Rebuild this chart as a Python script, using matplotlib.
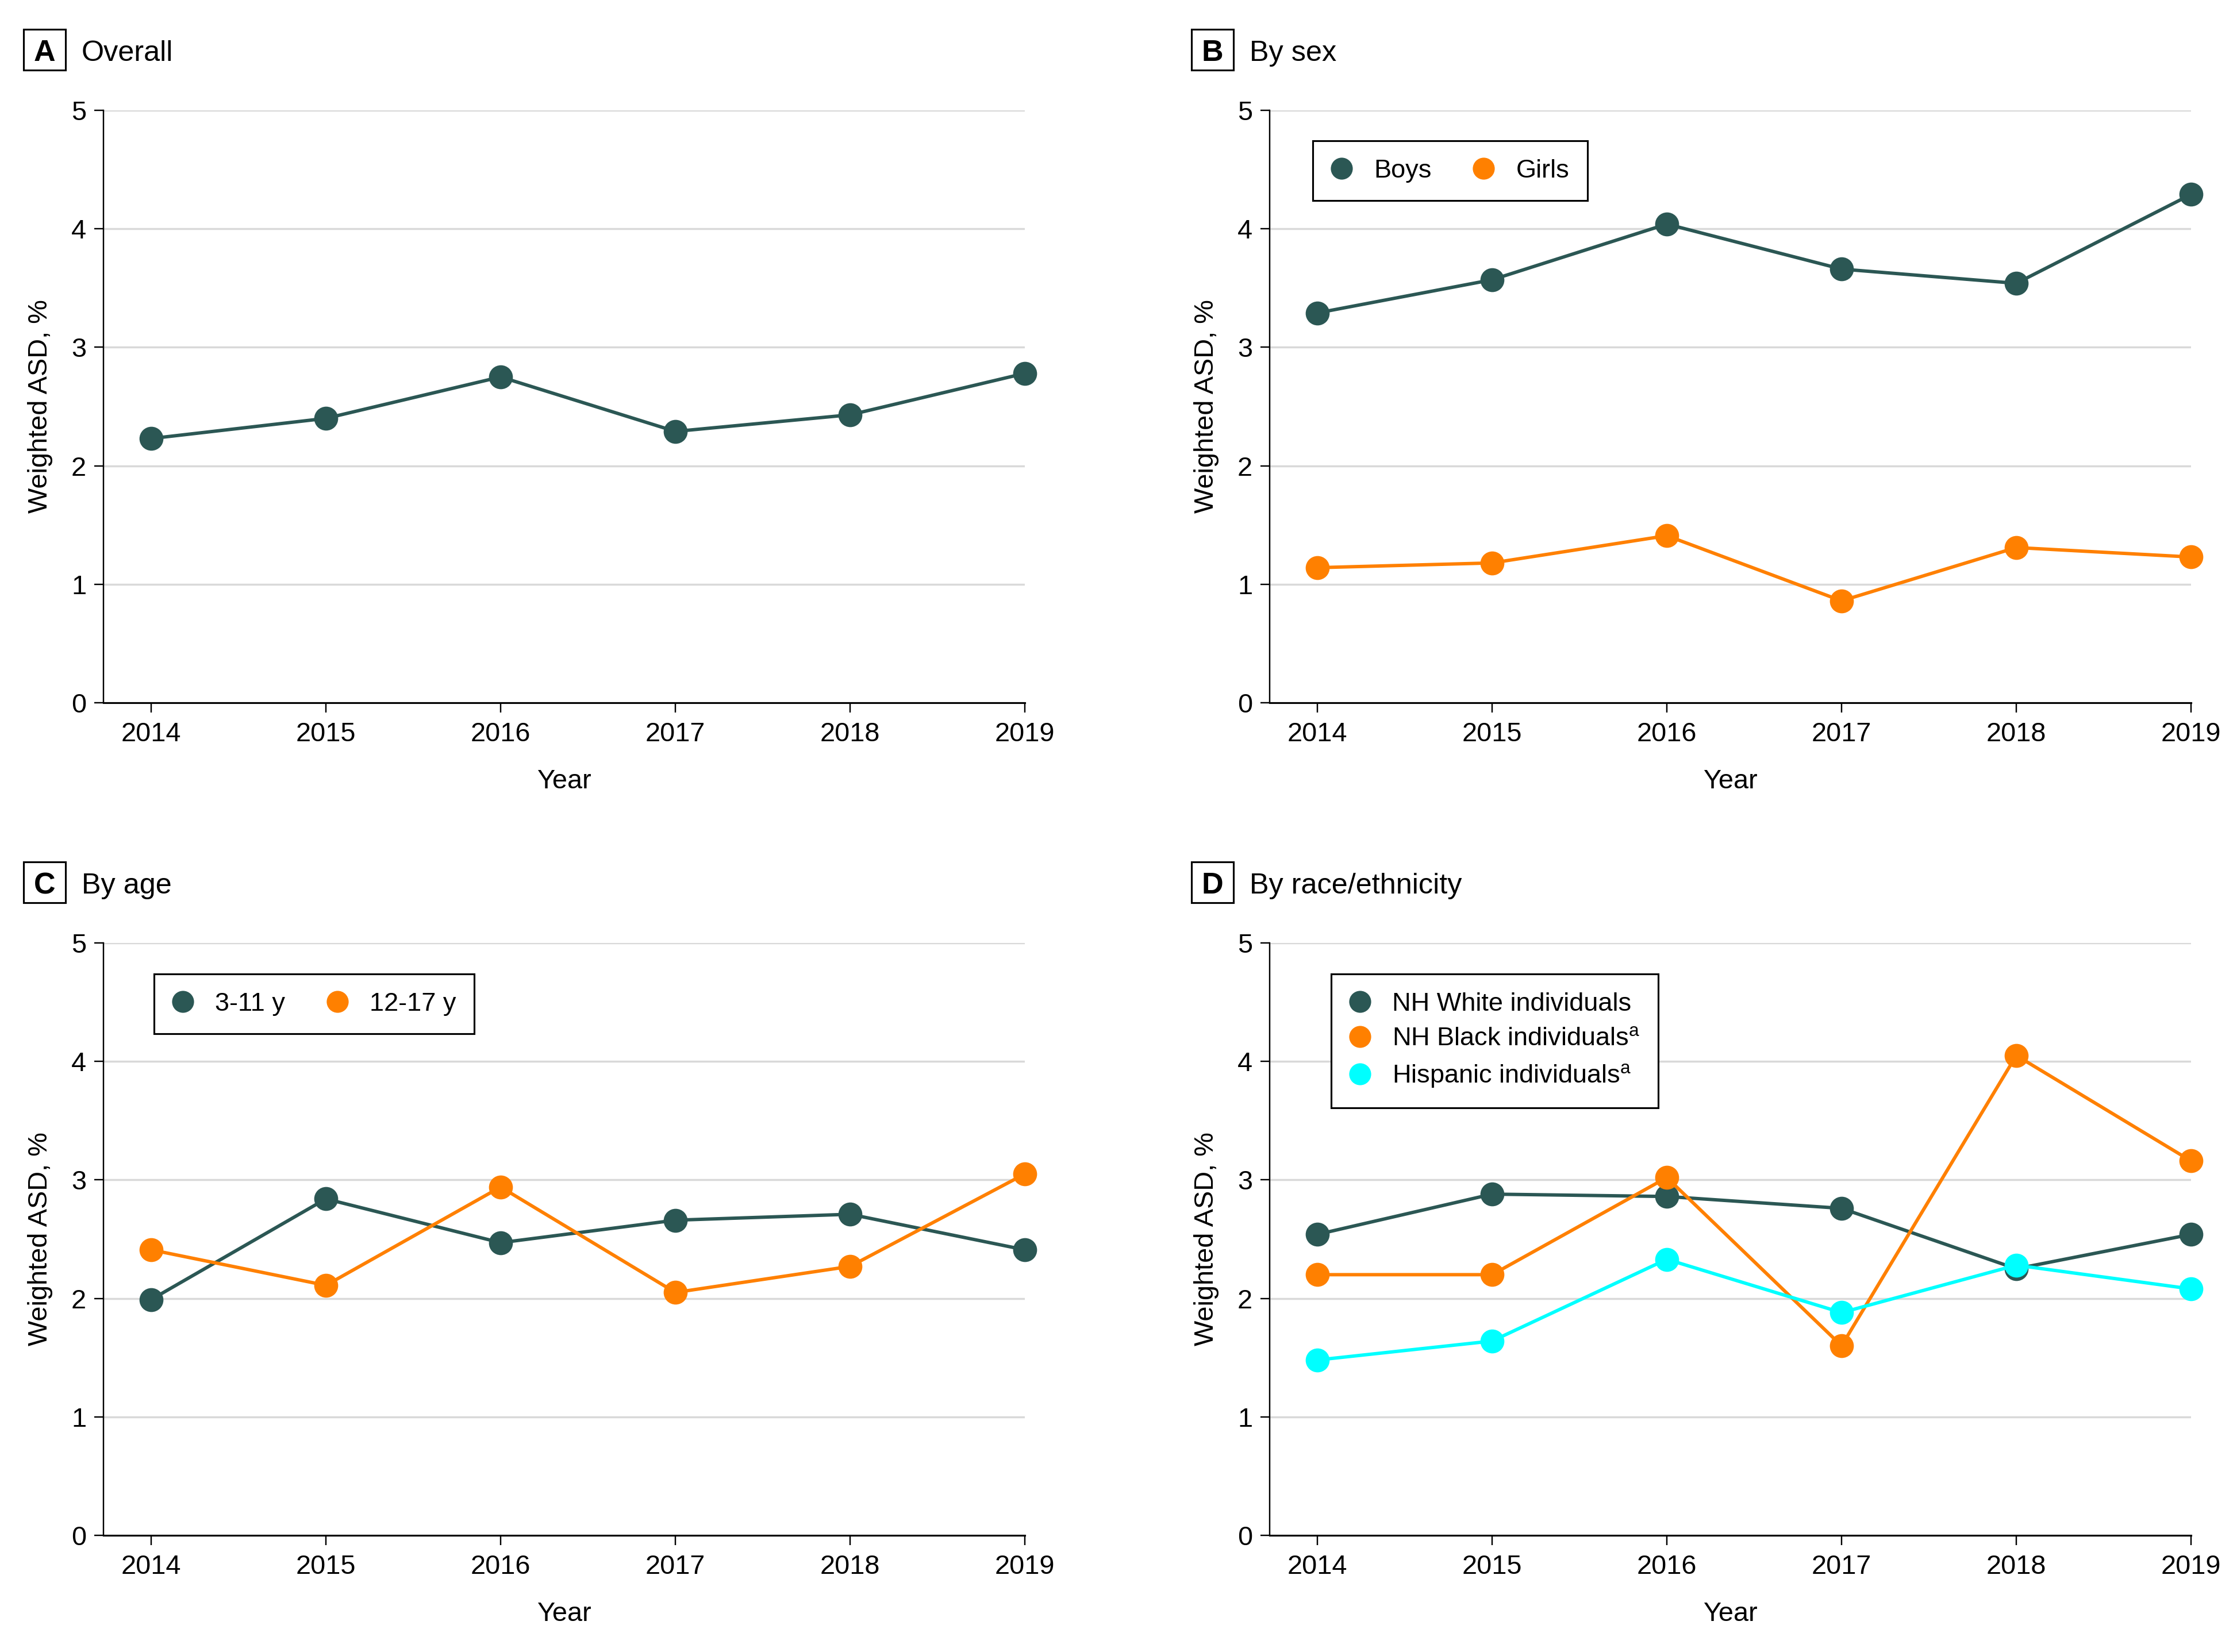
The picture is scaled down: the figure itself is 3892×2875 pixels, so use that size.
import matplotlib
matplotlib.use("Agg")
import matplotlib.pyplot as plt
from matplotlib.patches import Rectangle

plt.rcParams['font.family'] = ['Liberation Sans', 'DejaVu Sans']
plt.rcParams['mathtext.fontset'] = 'custom'
plt.rcParams['mathtext.rm'] = 'Liberation Sans'

years = [2014, 2015, 2016, 2017, 2018, 2019]

overall = [2.23, 2.40, 2.75, 2.29, 2.43, 2.78]

boys = [3.29, 3.57, 4.04, 3.66, 3.54, 4.29]
girls = [1.14, 1.18, 1.41, 0.86, 1.31, 1.23]

age_3_11 = [1.99, 2.84, 2.47, 2.66, 2.71, 2.41]
age_12_17 = [2.41, 2.11, 2.94, 2.05, 2.27, 3.05]

nh_white = [2.54, 2.88, 2.86, 2.76, 2.25, 2.54]
nh_black = [2.20, 2.20, 3.02, 1.60, 4.05, 3.16]
hispanic = [1.48, 1.64, 2.33, 1.88, 2.28, 2.08]

yticks = [0, 1, 2, 3, 4, 5]

DARK = '#2b5754'
ORANGE = '#ff8000'
CYAN = '#00ffff'

W, H = 3892, 2875
fig = plt.figure(figsize=(W / 250, H / 250), dpi=250)


def px(x, y):
    return x / W, 1 - y / H


def make_axes(left_px, top_px):
    l, t = px(left_px, top_px)
    ax = fig.add_axes([l, t - 1031 / H, 1603 / W, 1031 / H])
    ax.set_xlim(2013.727, 2019)
    ax.set_ylim(0, 5)
    ax.set_xticks(years)
    ax.set_yticks(yticks)
    ax.yaxis.grid(True, color='#d9d9d9', linewidth=1.0)
    ax.set_axisbelow(True)
    for s in ['top', 'right']:
        ax.spines[s].set_visible(False)
    ax.spines['left'].set_linewidth(0.7)
    ax.spines['bottom'].set_linewidth(0.9)
    ax.tick_params(axis='x', length=4.9, width=0.7, pad=4.5, labelsize=13.5)
    ax.tick_params(axis='y', length=4.6, width=0.7, pad=4, labelsize=13.5)
    ax.set_xlabel('Year', fontsize=13.5, va='top')
    ax.xaxis.set_label_coords(0.5, -0.112)
    ax.set_ylabel('Weighted ASD, %', fontsize=13.5)
    ax.yaxis.set_label_coords(-0.055, 0.5)
    return ax


def panel_title(letter, title, box_left, box_top):
    fig.patches.append(Rectangle(px(box_left, box_top + 71), 73 / W, 71 / H,
                                 transform=fig.transFigure, fill=False,
                                 edgecolor='black', linewidth=0.9))
    bx, by = px(box_left + 36.5, box_top + 55)
    fig.text(bx, by, letter, ha='center', va='baseline', fontsize=15,
             fontweight='bold')
    tx, ty = px(box_left + 101, box_top + 55)
    fig.text(tx, ty, title, ha='left', va='baseline', fontsize=14.5)


def series(ax, values, color, label=None):
    ax.plot(years, values, color=color, linewidth=1.7, marker='o',
            markersize=11, label=label, clip_on=False, zorder=3)


def legend(ax, x, y, ncol):
    leg = ax.legend(loc='upper left', bbox_to_anchor=(x, y), ncol=ncol,
                    fontsize=13, frameon=True, fancybox=False,
                    edgecolor='black', framealpha=1, borderpad=0.7,
                    handlelength=0.8, handletextpad=0.85,
                    columnspacing=1.6, labelspacing=0.45, borderaxespad=0)
    leg.get_frame().set_linewidth(0.9)
    for h in leg.legend_handles:
        h.set_linestyle('none')
        h.set_markersize(10)


# A
ax_a = make_axes(180, 192)
series(ax_a, overall, DARK)
panel_title('A', 'Overall', 41, 51)

# B
ax_b = make_axes(2209, 192)
series(ax_b, boys, DARK, 'Boys')
series(ax_b, girls, ORANGE, 'Girls')
legend(ax_b, 0.047, 0.9486, 2)
panel_title('B', 'By sex', 2073, 51)

# C
ax_c = make_axes(180, 1641)
series(ax_c, age_3_11, DARK, '3-11 y')
series(ax_c, age_12_17, ORANGE, '12-17 y')
legend(ax_c, 0.055, 0.9476, 2)
panel_title('C', 'By age', 41, 1500)

# D
ax_d = make_axes(2209, 1641)
series(ax_d, nh_white, DARK, 'NH White individuals')
series(ax_d, nh_black, ORANGE, r'NH Black individuals$^{\mathrm{a}}$')
series(ax_d, hispanic, CYAN, r'Hispanic individuals$^{\mathrm{a}}$')
legend(ax_d, 0.067, 0.9476, 1)
panel_title('D', 'By race/ethnicity', 2073, 1500)

fig.savefig('out.png', dpi=250)
